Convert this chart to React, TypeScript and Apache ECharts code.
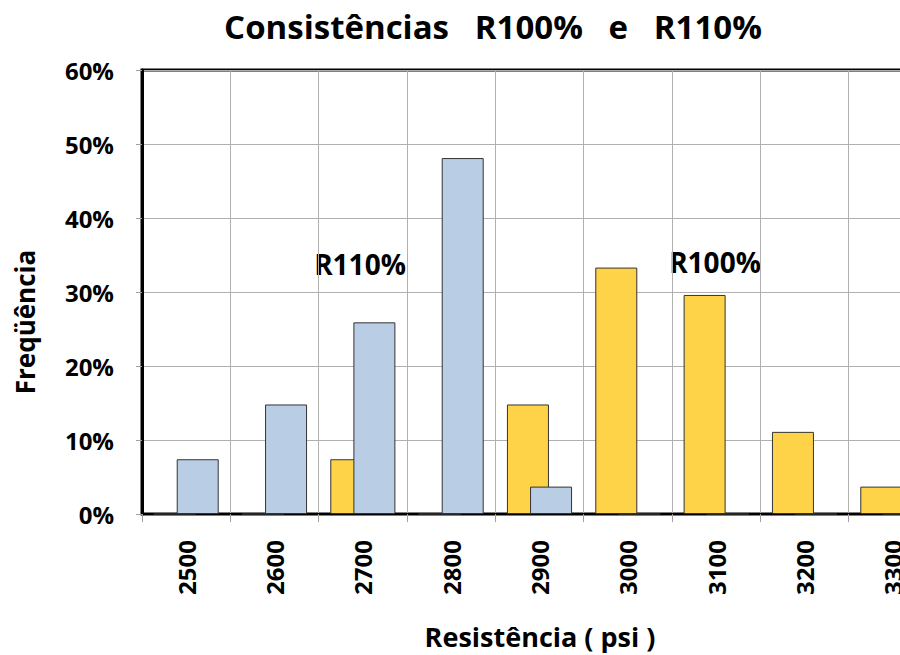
import React, { useEffect, useRef } from "react";
import * as echarts from "echarts";

const categories = ["2500", "2600", "2700", "2800", "2900", "3000", "3100", "3200", "3300"];
const r100Values = [0, 0, 7.4, 0, 14.8, 33.3, 29.6, 11.1, 3.7];
const r110Values = [7.4, 14.8, 25.9, 48.1, 3.7, 0, 0, 0, 0];
const yTicks = { min: 0, max: 60, interval: 10 };

const FONT = "'Open Sans', sans-serif";

export default function App() {
  const ref = useRef<HTMLDivElement>(null);
  useEffect(() => {
    if (!ref.current) return;
    const chart = echarts.init(ref.current, null, { renderer: "svg" });
    chart.setOption({
      animation: false,
      backgroundColor: "#ffffff",
      grid: { left: 142, top: 70, bottom: 141, right: 3, show: true, borderColor: "#000", borderWidth: 3, backgroundColor: "transparent" },
      xAxis: {
        type: "category",
        data: categories,
        boundaryGap: true,
        axisLine: { show: true, lineStyle: { color: "#000", width: 2 } },
        axisTick: { show: true, length: 8, lineStyle: { color: "#a0a0a0" } },
        splitLine: { show: true, lineStyle: { color: "#b0b0b0", width: 1 } },
        axisLabel: { rotate: 90, margin: 26, fontFamily: FONT, fontWeight: "bold", fontSize: 24, color: "#000" },
      },
      yAxis: {
        type: "value",
        min: yTicks.min,
        max: yTicks.max,
        interval: yTicks.interval,
        axisLine: { show: true, lineStyle: { color: "#000", width: 3 } },
        axisTick: { show: true, length: 6, lineStyle: { color: "#a0a0a0" } },
        splitLine: { show: true, lineStyle: { color: "#b0b0b0", width: 1 } },
        axisLabel: { margin: 28, fontFamily: FONT, fontWeight: "bold", fontSize: 24, color: "#000", formatter: "{value}%" },
      },
      series: [
        {
          name: "R100%",
          type: "bar",
          data: r100Values,
          barWidth: 42,
          barGap: "-45%",
          itemStyle: { color: "#FFD347", borderColor: "#333", borderWidth: 1 },
        },
        {
          name: "R110%",
          type: "bar",
          data: r110Values,
          barWidth: 42,
          barGap: "-45%",
          itemStyle: { color: "#B9CDE5", borderColor: "#333", borderWidth: 1 },
        },
      ],
      graphic: [
        { type: "text", x: 493, y: 26, style: { text: "Consistências   R100%   e   R110%", fontFamily: FONT, fontWeight: "bold", fontSize: 33, fill: "#000", textAlign: "center", textVerticalAlign: "middle" } },
        { type: "text", x: 25, y: 322, rotation: Math.PI / 2, style: { text: "Freqüência", fontFamily: FONT, fontWeight: "bold", fontSize: 26, fill: "#000", textAlign: "center", textVerticalAlign: "middle" } },
        { type: "text", x: 540, y: 636, style: { text: "Resistência ( psi )", fontFamily: FONT, fontWeight: "bold", fontSize: 27, fill: "#000", textAlign: "center", textVerticalAlign: "middle" } },
        { type: "text", x: 360, y: 264, style: { text: "R110%", fontFamily: FONT, fontWeight: "bold", fontSize: 28, fill: "#000", textAlign: "center", textVerticalAlign: "middle" } },
        { type: "text", x: 715, y: 262, style: { text: "R100%", fontFamily: FONT, fontWeight: "bold", fontSize: 28, fill: "#000", textAlign: "center", textVerticalAlign: "middle" } },
      ],
    });
    return () => chart.dispose();
  }, []);
  return (
    <div style={{ width: 900, height: 655, position: "absolute", left: 0, top: 0, overflow: "hidden" }}>
      <div ref={ref} style={{ width: 940, height: 655 }} />
    </div>
  );
}
